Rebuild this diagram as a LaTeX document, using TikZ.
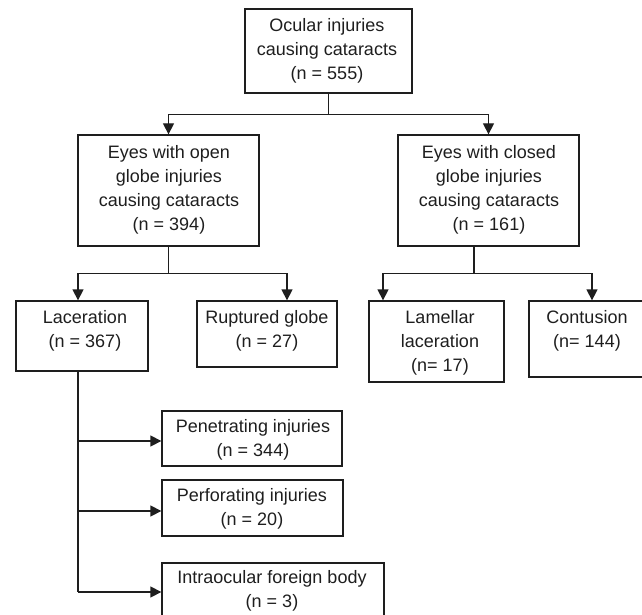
\documentclass[tikz,border=0pt]{standalone}
\usepackage{fontspec}
\setmainfont{Liberation Sans}
\usetikzlibrary{arrows.meta}
\definecolor{ink}{HTML}{1E1E1E}
\tikzset{
  box/.style={draw=ink, line width=1.3pt, rectangle, inner sep=0pt, fill=none},
  txt/.style={align=center, text=ink, inner sep=0pt, font=\fontsize{18}{24}\selectfont},
  conn/.style={draw=ink, line width=1.3pt},
  arr/.style={conn, -{Triangle[length=11pt,width=11pt]}}
}
\begin{document}
\begin{tikzpicture}[x=1pt,y=-1pt]
\useasboundingbox (0,0) rectangle (642,615);
\clip (0,0) rectangle (642,615);
% boxes
\node[box, minimum width=167pt, minimum height=84pt] (top) at (328.5,51) {};
\node[box, minimum width=181pt, minimum height=111pt] (open) at (168.5,190.5) {};
\node[box, minimum width=181pt, minimum height=111pt] (closed) at (488.5,190.5) {};
\node[box, minimum width=132pt, minimum height=70pt] (lac) at (82,336) {};
\node[box, minimum width=140pt, minimum height=66pt] (rup) at (267,334) {};
\node[box, minimum width=135pt, minimum height=81pt] (lam) at (436.5,341.5) {};
\node[box, minimum width=121pt, minimum height=76pt] (con) at (589.5,339) {};
\node[box, minimum width=180pt, minimum height=55pt] (pen) at (252,438.5) {};
\node[box, minimum width=181pt, minimum height=56pt] (per) at (252.5,508) {};
\node[box, minimum width=222pt, minimum height=58pt] (ioc) at (273,592) {};
% texts
\node[txt] (ttop) at (327,51) {Ocular injuries\\causing cataracts\\(n = 555)};
\node[txt] (topen) at (169,190) {Eyes with open\\globe injuries\\causing cataracts\\(n = 394)};
\node[txt] (tclosed) at (489,190) {Eyes with closed\\globe injuries\\causing cataracts\\(n = 161)};
\node[txt] (tlac) at (85,331) {Laceration\\(n = 367)};
\node[txt] (trup) at (267,331) {Ruptured globe\\(n = 27)};
\node[txt] (tlam) at (440,343) {Lamellar\\laceration\\(n= 17)};
\node[txt] (tcon) at (587,331) {Contusion\\(n= 144)};
\node[txt] (tpen) at (253,440) {Penetrating injuries\\(n = 344)};
\node[txt] (tper) at (252,509) {Perforating injuries\\(n = 20)};
\node[txt] (tioc) at (272,591) {Intraocular foreign body\\(n = 3)};
% connectors
\draw[conn] (top.south) -- ++(0,21) coordinate (j1);
\draw[arr] (j1) -| (open.north);
\draw[arr] (j1) -| (closed.north);
\draw[conn] (open.south) -- ++(0,27) coordinate (j2);
\draw[arr] (j2) -| ([xshift=-4pt]lac.north);
\draw[arr] (j2) -| ([xshift=20pt]rup.north);
\coordinate (c0) at ([xshift=-14.5pt]closed.south);
\draw[conn] (c0) -- ++(0,27) coordinate (j3);
\draw[arr] (j3) -| ([xshift=-53.5pt]lam.north);
\draw[arr] (j3) -| ([xshift=2.5pt]con.north);
\coordinate (lv) at ([xshift=-4pt]lac.south);
\coordinate (p1) at ([yshift=-2.5pt]pen.west);
\coordinate (p2) at ([yshift=-3pt]per.west);
\draw[conn] (lv) -- (lv |- ioc.west);
\draw[arr] (lv |- p1) -- (p1);
\draw[arr] (lv |- p2) -- (p2);
\draw[arr] (lv |- ioc.west) -- (ioc.west);
\end{tikzpicture}
\end{document}
